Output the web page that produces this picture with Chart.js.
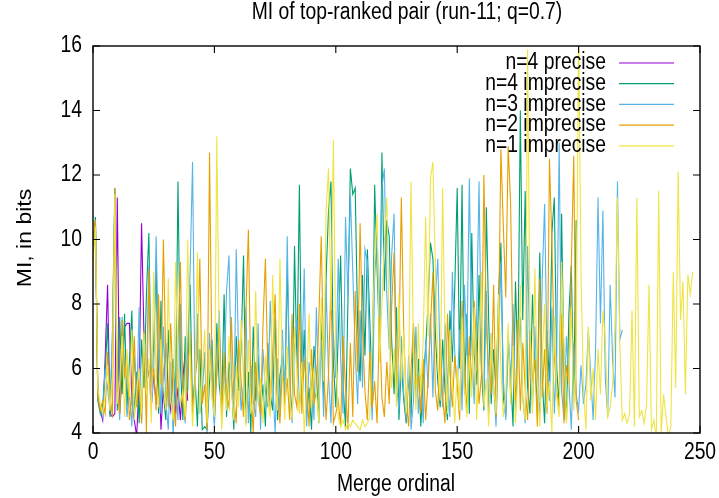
<!DOCTYPE html>
<html>
<head>
<meta charset="utf-8">
<script src="https://cdn.jsdelivr.net/npm/chart.js@4.4.0/dist/chart.umd.min.js"></script>
<style>
  body { margin: 0; background: #fff; }
  canvas { display: block; }
</style>
</head>
<body>
<canvas id="miChart" width="719" height="498"></canvas>
<script>
const seriesLabels = ["n=4 precise", "n=4 imprecise", "n=3 imprecise", "n=2 imprecise", "n=1 imprecise"];
const seriesColors = ["#9400d3", "#009e73", "#56b4e9", "#e69f00", "#f0e442"];

const xTicks = [0, 50, 100, 150, 200, 250];
const yTicks = [4, 6, 8, 10, 12, 14, 16];

// MI per merge ordinal (index = ordinal)
const n4Precise = [9.6, 10.4, 5.1, 4.7, 4.4, 6.3, 8.6, 4.6, 4.5, 4.6,
  11.3, 4.6, 5.9, 7.3, 7.4, 7.4, 5.0, 4.4, 3.9, 5.6,
  10.5, 7.0, 5.3, 6.1, 4.8, 5.8, 4.9, 6.4, 4.1, 5.5,
  6.8, 5.2, 4.7, 5.9, 4.6, 5.4, 4.4, 5.7, 6.5, 5.0];

const n4Imprecise = [9.8, 10.7, 5.0, 4.6, 4.9, 5.9, 7.4, 4.5, 6.8, 11.6,
  4.7, 7.6, 5.2, 7.7, 4.8, 6.2, 7.8, 4.5, 5.9, 4.3,
  6.9, 5.4, 8.3, 10.2, 5.6, 6.7, 9.4, 4.6, 8.1, 5.2,
  4.4, 7.2, 5.0, 6.3, 4.9, 11.8, 6.1, 4.4, 7.0, 5.3,
  8.6, 4.7, 5.8, 4.2, 6.6, 4.1, 4.2, 4.1, 5.6, 6.9,
  4.3, 7.4, 5.5, 4.8, 8.3, 4.5, 6.2, 5.7, 4.1, 7.0,
  5.3, 6.6, 9.5, 4.3, 5.9, 4.0, 7.3, 5.0, 6.4, 4.6,
  5.5, 4.2, 6.8, 5.2, 4.7, 7.6, 4.4, 5.8, 6.3, 4.9,
  9.2, 5.6, 4.4, 9.8, 6.0, 11.7, 5.1, 7.2, 4.5, 5.4,
  4.1, 6.7, 5.8, 4.3, 7.6, 5.0, 8.8, 10.9, 11.8, 6.2,
  4.8, 7.0, 9.5, 5.5, 4.2, 8.1, 12.2, 11.4, 11.6, 7.3,
  5.6, 8.9, 6.4, 9.7, 7.5, 5.3, 11.7, 9.1, 6.8, 12.7,
  8.4, 10.6, 10.1, 6.9, 5.2, 7.9, 4.4, 6.1, 5.0, 4.3,
  5.8, 4.5, 7.3, 5.1, 6.3, 4.2, 5.7, 6.6, 8.0, 9.9,
  9.4, 7.1, 5.6, 4.8, 6.9, 5.3, 4.4, 7.8, 6.2, 8.5,
  11.6, 6.0, 11.7, 5.2, 7.7, 4.6, 10.2, 6.4, 5.5, 8.9,
  5.9, 4.7, 11.0, 7.4, 4.9, 6.6, 5.3, 8.2, 9.9, 5.1,
  4.5, 7.0, 5.8, 4.2, 8.7, 6.1, 14.0, 7.5, 11.5, 5.4,
  4.6, 8.3, 6.2, 4.9, 9.6, 5.7, 4.3, 7.2, 5.5, 10.2,
  11.3, 6.0, 4.8, 10.8, 5.9, 4.4, 7.7, 9.2, 5.1, 10.6];

const n3Imprecise = [9.5, 10.6, 5.2, 4.8, 4.5, 6.0, 5.4, 4.7, 7.2, 11.5,
  5.8, 4.4, 7.6, 6.1, 4.5, 5.3, 4.2, 6.4, 5.0, 7.9,
  4.3, 6.9, 5.5, 9.2, 4.8, 5.9, 10.1, 6.4, 4.6, 7.3,
  5.0, 4.1, 6.2, 3.9, 5.6, 4.4, 8.0, 5.1, 4.3, 6.7,
  9.0, 12.4, 5.3, 7.7, 4.6, 5.2, 6.5, 4.0, 7.1, 5.4,
  4.2, 6.0, 7.8, 4.9, 5.6, 8.4, 9.5, 5.8, 4.4, 9.7,
  6.3, 4.7, 5.5, 7.9, 4.3, 6.1, 5.0, 4.5, 7.4, 4.1,
  6.6, 5.3, 4.8, 8.1, 5.7, 4.0, 6.3, 4.6, 7.2, 5.1,
  10.1, 5.4, 4.3, 6.8, 7.5, 4.7, 5.9, 9.1, 4.2, 6.2,
  5.5, 4.4, 7.9, 5.0, 6.9, 4.5, 8.6, 5.8, 4.3, 7.1,
  5.7, 9.4, 6.3, 4.6, 10.7, 8.2, 11.4, 9.0, 6.5, 4.9,
  7.8, 5.4, 9.7, 9.3, 6.1, 4.4, 8.8, 10.2, 7.4, 11.6,
  12.2, 8.3, 6.6, 9.5, 10.8, 5.5, 4.7, 7.0, 5.2, 4.4,
  6.4, 4.1, 5.0, 7.3, 4.6, 5.8, 4.3, 6.9, 5.4, 7.7,
  5.1, 8.2, 9.4, 6.0, 4.8, 7.4, 5.6, 4.5, 9.0, 6.5,
  5.3, 7.2, 4.7, 8.6, 6.4, 11.9, 6.8, 4.9, 7.6, 11.8,
  6.1, 5.0, 8.4, 4.6, 7.1, 5.5, 4.2, 6.6, 9.3, 5.7,
  4.4, 6.9, 5.2, 8.0, 4.7, 6.3, 7.6, 5.1, 4.3, 9.8,
  6.0, 4.8, 7.3, 5.4, 4.5, 8.7, 11.1, 6.2, 5.0, 7.9,
  4.6, 6.5, 13.0, 5.3, 4.4, 7.0, 5.6, 4.1, 6.8, 5.2,
  4.7, 6.1, 4.9, 5.5, 7.2, 5.8, 4.4, 6.6, 11.3, 7.4,
  10.9, 5.7, 4.5, 8.6, 6.3, 5.1, 11.8, 6.9, 7.2];

const n2Imprecise = [9.9, 10.6, 5.1, 4.7, 5.0, 4.6, 6.5, 5.2, 4.5, 11.6,
  5.3, 4.6, 7.5, 5.7, 6.4, 4.4, 5.1, 7.0, 4.8, 5.6,
  4.3, 7.2, 4.0, 9.1, 5.4, 6.0, 4.7, 8.3, 5.5, 10.0,
  6.2, 4.8, 7.4, 5.3, 4.2, 6.7, 9.3, 5.0, 4.4, 5.9,
  7.1, 4.6, 5.7, 6.3, 9.4, 4.9, 5.5, 4.1, 12.7, 6.0,
  4.7, 5.8, 7.3, 4.4, 6.5, 5.2, 4.8, 7.6, 5.1, 4.3,
  6.9, 5.6, 4.5, 7.8, 10.3, 5.4, 4.0, 6.2, 5.0, 4.6,
  7.3, 9.4, 5.9, 4.7, 6.4, 8.3, 5.1, 4.3, 6.0, 4.9,
  5.7, 4.4, 7.7, 5.2, 4.8, 8.0, 4.6, 6.3, 5.5, 4.2,
  6.6, 4.9, 5.3, 7.5, 10.1, 6.1, 4.4, 5.8, 8.7, 4.3,
  4.6, 5.0, 4.2, 7.0, 5.4, 4.1, 6.8, 4.5, 8.4, 5.9,
  10.5, 7.2, 5.3, 4.4, 6.5, 4.8, 5.6, 4.3, 7.6, 5.1,
  4.5, 6.2, 4.9, 7.9, 9.6, 5.5, 6.7, 11.3, 7.1, 5.0,
  4.2, 6.0, 7.4, 5.2, 5.8, 4.6, 6.3, 4.4, 5.6, 7.3,
  9.0, 5.3, 4.7, 6.9, 5.1, 4.3, 7.7, 5.9, 4.8, 6.4,
  5.5, 4.4, 8.1, 6.2, 4.6, 7.0, 5.4, 8.1, 6.6, 4.9,
  5.8, 12.0, 7.3, 6.0, 5.2, 8.6, 4.5, 7.1, 12.8, 10.4,
  8.2, 12.9, 11.1, 6.3, 5.0, 7.5, 4.7, 6.8, 5.4, 4.4,
  7.2, 5.6, 6.3, 4.2, 8.8, 5.1, 6.6, 4.6, 12.5, 9.9,
  6.4, 5.3, 4.8, 7.7, 4.3, 6.1, 5.5, 9.2, 12.6, 5.0,
  4.4];

const n1Imprecise = [9.3, 10.4, 5.4, 4.9, 4.6, 5.2, 6.1, 4.7, 5.8, 11.4,
  4.9, 5.6, 7.0, 4.5, 6.6, 5.1, 7.2, 4.4, 5.3, 6.0,
  4.6, 7.1, 5.2, 6.3, 4.3, 9.0, 5.7, 4.8, 6.9, 5.5,
  4.7, 8.8, 5.0, 4.4, 9.3, 6.0, 4.9, 5.3, 4.5, 10.0,
  6.3, 4.2, 5.4, 9.6, 4.6, 5.9, 7.2, 4.3, 6.6, 5.1,
  4.5, 13.2, 6.8, 4.1, 5.5, 4.7, 7.0, 5.3, 4.4, 6.1,
  4.8, 7.5, 5.6, 4.2, 6.9, 4.6, 5.2, 8.4, 4.9, 5.7,
  4.3, 6.4, 5.0, 4.5, 8.9, 5.5, 4.7, 9.4, 5.9, 4.4,
  6.7, 5.1, 4.4, 7.3, 5.8, 4.6, 6.2, 4.0, 5.4, 7.7,
  4.8, 6.0, 5.3, 4.3, 8.2, 5.6, 10.9, 12.2, 7.8, 13.1,
  6.4, 4.5, 4.2, 4.4, 4.1, 4.3, 4.2, 4.4, 4.3, 4.2,
  4.1, 4.4, 4.2, 4.3, 4.5, 6.8, 9.4, 10.8, 6.2, 8.0,
  9.9, 11.3, 7.0, 5.4, 6.6, 4.8, 8.3, 5.6, 7.2, 4.6,
  5.9, 11.8, 6.5, 4.7, 7.4, 5.2, 6.9, 10.7, 7.0, 11.9,
  12.4, 9.2, 6.1, 5.0, 11.6, 6.8, 4.6, 7.2, 5.5, 4.3,
  6.0, 4.7, 7.6, 5.3, 4.5, 6.4, 5.1, 7.9, 4.4, 6.2,
  9.0, 4.8, 5.7, 4.2, 7.1, 5.4, 4.6, 8.3, 6.0, 4.5,
  5.2, 7.4, 4.9, 6.7, 4.3, 5.8, 8.6, 5.0, 4.4, 15.9,
  7.2, 4.6, 9.1, 5.5, 4.2, 6.3, 8.0, 4.8, 5.6, 4.0,
  7.6, 5.1, 4.5, 9.3, 6.5, 4.3, 5.7, 7.9, 4.7, 6.2,
  16.5, 8.9, 5.4, 4.1, 7.3, 5.0, 6.0, 4.4, 6.6, 5.2,
  7.8, 6.9, 4.5, 4.8, 5.5, 7.4, 11.3, 6.7, 4.4, 4.6,
  4.3, 4.6, 7.8, 4.2, 11.3, 4.5, 4.7, 4.3, 4.9, 8.6,
  4.1, 4.4, 3.8, 11.5, 4.0, 5.2, 4.5, 3.9, 4.2, 9.0,
  5.4, 12.1, 7.5, 8.7, 5.2, 8.9, 8.3, 9.0];

const allSeries = [n4Precise, n4Imprecise, n3Imprecise, n2Imprecise, n1Imprecise];

const FONT = '23px "Liberation Sans", Arial, sans-serif';
const SQUEEZE = 0.84; // glyphs are narrower than they are tall

// text squeezed horizontally; rotated text keeps its length along y
function drawLabel(ctx, str, x, y, align, rotate) {
  ctx.save();
  ctx.translate(x, y);
  ctx.scale(SQUEEZE, 1);
  if (rotate) ctx.rotate(-Math.PI / 2);
  ctx.font = FONT;
  ctx.fillStyle = "#000";
  ctx.textAlign = align;
  ctx.textBaseline = "middle";
  ctx.fillText(str, 0, 0);
  ctx.restore();
}

const gnuFrame = {
  id: "gnuFrame",
  beforeDraw(chart) {
    const ctx = chart.ctx;
    ctx.save();
    ctx.fillStyle = "#fff";
    ctx.fillRect(0, 0, chart.width, chart.height);
    ctx.restore();
  },
  afterDatasetsDraw(chart) {
    const ctx = chart.ctx;
    const area = chart.chartArea;
    const xs = chart.scales.x;
    const ys = chart.scales.y;
    const tick = 7;

    ctx.save();
    ctx.strokeStyle = "#000";
    ctx.lineWidth = 1.4;
    ctx.strokeRect(area.left, area.top, area.right - area.left, area.bottom - area.top);

    // inward ticks, mirrored on the opposite side
    ctx.lineWidth = 1.1;
    ctx.beginPath();
    yTicks.forEach((v) => {
      const py = ys.getPixelForValue(v);
      ctx.moveTo(area.left, py);
      ctx.lineTo(area.left + tick, py);
      ctx.moveTo(area.right, py);
      ctx.lineTo(area.right - tick, py);
    });
    xTicks.forEach((v) => {
      const px = xs.getPixelForValue(v);
      ctx.moveTo(px, area.bottom);
      ctx.lineTo(px, area.bottom - tick);
      ctx.moveTo(px, area.top);
      ctx.lineTo(px, area.top + tick);
    });
    ctx.stroke();
    ctx.restore();

    yTicks.forEach((v) => drawLabel(ctx, String(v), area.left - 11, ys.getPixelForValue(v), "right"));
    xTicks.forEach((v) => drawLabel(ctx, String(v), xs.getPixelForValue(v), area.bottom + 20, "center"));

    drawLabel(ctx, "MI of top-ranked pair (run-11; q=0.7)", 407, 13, "center");
    drawLabel(ctx, "Merge ordinal", 396, 485, "center");
    drawLabel(ctx, "MI, in bits", 26, 238, "center", true);

    // key, top right inside the frame
    seriesLabels.forEach((name, i) => {
      const py = 63 + i * 20.7;
      drawLabel(ctx, name, 606, py, "right");
      ctx.save();
      ctx.strokeStyle = seriesColors[i];
      ctx.lineWidth = 1.2;
      ctx.beginPath();
      ctx.moveTo(619, py);
      ctx.lineTo(674, py);
      ctx.stroke();
      ctx.restore();
    });
  }
};

const datasets = allSeries.map((values, i) => ({
  label: seriesLabels[i],
  data: values.map((v, k) => ({ x: k, y: v })),
  borderColor: seriesColors[i],
  borderWidth: 1.1,
  pointRadius: 0,
  tension: 0,
  fill: false,
  clip: 0,
  order: allSeries.length - i
}));

new Chart(document.getElementById("miChart"), {
  type: "line",
  data: { datasets: datasets },
  options: {
    responsive: false,
    animation: false,
    events: [],
    layout: { padding: { left: 93, right: 19, top: 46, bottom: 65 } },
    plugins: { legend: { display: false }, tooltip: { enabled: false }, title: { display: false } },
    scales: {
      x: { type: "linear", min: 0, max: 250, display: false },
      y: { min: 4, max: 16, display: false }
    }
  },
  plugins: [gnuFrame]
});
</script>
</body>
</html>
